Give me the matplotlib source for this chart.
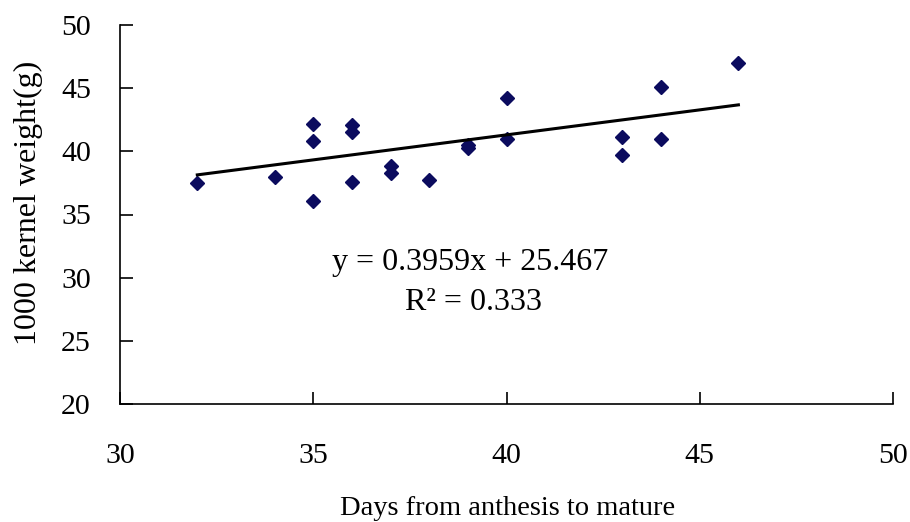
import matplotlib
matplotlib.use('Agg')
import matplotlib.pyplot as plt

# days from anthesis to mature vs 1000 kernel weight (g)
days = [32, 34, 35, 35, 35, 36, 36, 36, 37, 37, 38, 39, 39, 40, 40, 43, 43, 44, 44, 46]
kernel_weight = [37.5, 38.0, 42.2, 40.8, 36.1, 42.1, 41.5, 37.6, 38.8, 38.3,
                 37.75, 40.5, 40.3, 44.2, 41.0, 41.1, 39.7, 45.1, 41.0, 47.0]

slope = 0.3959
intercept = 25.467
r2 = 0.333

x_ticks = [30, 35, 40, 45, 50]
y_ticks = [20, 25, 30, 35, 40, 45, 50]

plt.rcParams['font.family'] = ['Liberation Serif', 'DejaVu Serif']

fig = plt.figure(figsize=(9.1, 5.22), dpi=100)
ax = fig.add_axes([120 / 910, 1 - 404 / 522, 773 / 910, 379 / 522])

ax.plot(days, kernel_weight, linestyle='none', marker='D', markersize=7,
        color='#0b0b5e')

fit_x = [min(days), max(days)]
fit_y = [slope * v + intercept for v in fit_x]
ax.plot(fit_x, fit_y, color='black', linewidth=2.2)

ax.set_xlim(30, 50)
ax.set_ylim(20, 50)
ax.set_xticks(x_ticks)
ax.set_yticks(y_ticks)
for s in ('top', 'right'):
    ax.spines[s].set_visible(False)
for s in ('left', 'bottom'):
    ax.spines[s].set_linewidth(1.2)
ax.tick_params(direction='in', length=9, width=1.2, labelsize=21.5)
ax.tick_params(axis='x', pad=28)
ax.tick_params(axis='y', pad=21)

ax.set_xlabel('Days from anthesis to mature', fontsize=20.5)
ax.xaxis.set_label_coords(0.502, -0.244)
ax.set_ylabel('1000 kernel weight(g)', fontsize=23)
ax.yaxis.set_label_coords(-0.100, 0.53)

ax.text(0.453, 0.373, 'y = {:.4f}x + {:.3f}'.format(slope, intercept),
        transform=ax.transAxes, ha='center', va='center', fontsize=23)
ax.text(0.457, 0.268, 'R² = {:.3f}'.format(r2),
        transform=ax.transAxes, ha='center', va='center', fontsize=23)

fig.savefig('out.png')
plt.close(fig)
